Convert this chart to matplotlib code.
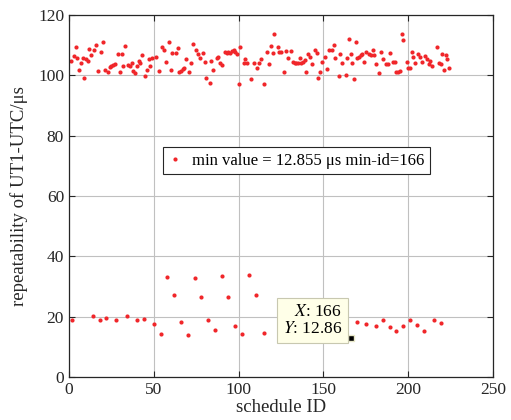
import matplotlib
matplotlib.use("Agg")
import matplotlib.pyplot as plt

plt.rcParams['font.family'] = ['Liberation Serif', 'DejaVu Serif']
plt.rcParams['mathtext.fontset'] = 'stix'

# schedules with large repeatability (upper group)
upperIds = [1, 3, 4, 5, 6, 7, 8, 9, 10, 11, 12, 13, 15, 16, 17, 19, 20, 21, 23, 24,
            25, 26, 27, 29, 30, 31, 32, 33, 35, 36, 37, 38, 39, 40, 41, 42, 43, 45, 46, 47,
            48, 49, 51, 53, 55, 56, 57, 59, 60, 61, 63, 64, 65, 66, 67, 68, 69, 71, 72, 73,
            75, 76, 77, 79, 80, 81, 83, 84, 85, 87, 88, 89, 90, 92, 93, 94, 95, 96, 97, 98,
            99, 100, 101, 103, 104, 105, 107, 109, 111, 112, 113, 115, 117, 118, 119, 120, 121, 123, 124, 125,
            127, 128, 129, 131, 132, 133, 134, 135, 136, 137, 138, 139, 140, 141, 142, 143, 145, 146, 147, 148,
            149, 151, 152, 153, 155, 156, 157, 159, 160, 161, 163, 164, 165, 166, 167, 168, 169, 170, 171, 172,
            173, 174, 175, 177, 178, 179, 180, 181, 183, 184, 185, 187, 188, 189, 191, 192, 193, 194, 195, 196,
            197, 199, 200, 201, 202, 203, 204, 206, 207, 208, 210, 211, 212, 213, 214, 217, 218, 219, 220, 221,
            222, 223, 224]
upperVals = [104.8, 106.6, 109.4, 105.9, 101.9, 104.2, 105.9, 99.3, 105.4, 104.9, 108.7, 106.8, 108.5, 110.0, 101.5, 107.7, 111.1, 101.8, 101.0, 102.8,
             103.3, 103.5, 103.7, 107.1, 101.0, 107.1, 103.3, 109.8, 103.5, 103.1, 104.2, 101.5, 100.9, 103.1, 104.8, 104.2, 106.8, 99.9, 101.7, 105.3,
             103.3, 105.8, 106.2, 101.5, 109.4, 108.6, 104.3, 111.0, 101.8, 107.3, 107.3, 109.0, 101.3, 101.5, 102.0, 102.4, 105.4, 101.3, 104.2, 110.5,
             108.4, 107.1, 105.9, 107.3, 104.4, 99.1, 97.4, 104.8, 101.9, 105.7, 106.2, 104.2, 103.5, 107.9, 107.3, 107.9, 107.3, 108.2, 108.4, 107.7,
             107.1, 97.3, 109.5, 104.2, 105.3, 104.2, 98.7, 104.2, 102.6, 104.2, 105.3, 97.3, 107.9, 103.7, 109.9, 107.5, 113.7, 109.3, 107.7, 107.9,
             101.3, 108.2, 105.7, 108.2, 104.4, 104.0, 104.2, 104.0, 105.7, 104.2, 104.6, 105.1, 101.3, 107.1, 106.2, 103.7, 108.4, 107.5, 99.3, 101.1,
             104.6, 106.2, 102.2, 108.4, 108.6, 110.2, 105.9, 99.8, 107.1, 104.0, 100.0, 105.9, 112.1, 107.1, 104.2, 98.9, 111.0, 105.7, 106.2, 106.8,
             107.1, 104.4, 107.9, 107.1, 106.8, 108.6, 106.8, 103.7, 100.7, 107.9, 105.5, 103.7, 103.7, 107.3, 104.6, 104.6, 101.3, 101.3, 101.5, 113.7,
             111.9, 104.6, 102.6, 102.6, 107.9, 106.2, 104.2, 107.1, 106.2, 104.4, 106.4, 105.5, 103.7, 104.8, 103.1, 109.3, 104.2, 103.7, 107.1, 101.8,
             106.8, 105.5, 102.6]

# schedules with small repeatability (lower group)
lowerIds = [2, 14, 18, 22, 28, 34, 40, 44, 50, 54, 58, 62, 66, 70, 74, 78, 82, 86, 90, 94,
            98, 102, 106, 110, 115, 166, 170, 175, 181, 185, 189, 193, 197, 201, 205, 209, 215, 219]
lowerVals = [18.9, 20.3, 19.1, 19.7, 19.1, 20.2, 18.9, 19.4, 17.6, 14.4, 33.1, 27.1, 18.3, 13.9, 33.0, 26.6, 18.8, 15.5, 33.5, 26.5,
             16.9, 14.3, 33.9, 27.2, 14.5, 12.855, 18.2, 17.7, 17.0, 18.8, 16.7, 15.2, 16.8, 18.8, 17.4, 15.4, 18.9, 17.9]

minId = 166
minVal = 12.855

xTicks = [0, 50, 100, 150, 200, 250]
yTicks = [0, 20, 40, 60, 80, 100, 120]

ids = upperIds + lowerIds
vals = upperVals + lowerVals

fig = plt.figure(figsize=(5.11, 4.2), dpi=100)
ax = fig.add_axes([0.135, 0.102, 0.83, 0.862])

ax.plot(ids, vals, linestyle='none', marker='o', markersize=3.0, color='#f0262a',
        markeredgewidth=0, label='min value = 12.855 μs min-id=166')

ax.set_xlim(0, 250)
ax.set_ylim(0, 120)
ax.set_xticks(xTicks)
ax.set_yticks(yTicks)
ax.grid(True, color='#c0c0c0', linewidth=0.8)
ax.set_axisbelow(True)
ax.tick_params(direction='in', top=True, right=True, labelsize=12.5, colors='#262626', length=4)
for s in ax.spines.values():
    s.set_color('#262626')
    s.set_linewidth(0.9)

ax.set_xlabel('schedule ID', fontsize=13.5, labelpad=1, color='#262626')
ax.set_ylabel('repeatability of UT1-UTC/μs', fontsize=13.5, labelpad=7, color='#262626')

leg = ax.legend(loc='center', bbox_to_anchor=(0.536, 0.598), fontsize=12, fancybox=False,
                framealpha=1, edgecolor='#262626', handlelength=0.8, handletextpad=0.6,
                borderpad=0.35, markerscale=1.0)
leg.get_frame().set_linewidth(0.8)

# data tip at the minimum
ax.plot([minId], [minVal], linestyle='none', marker='s', markersize=4.5,
        markerfacecolor='black', markeredgecolor='#e8e8c8', markeredgewidth=1, zorder=5)
ax.annotate('$X$: %d\n$Y$: %.2f' % (minId, minVal), xy=(minId, minVal),
            xytext=(-6, 1), textcoords='offset points', ha='right', va='bottom',
            fontsize=12.5, linespacing=1.05,
            bbox=dict(boxstyle='square,pad=0.35', facecolor='#ffffe8', edgecolor='#c8c8b0', linewidth=0.8),
            zorder=6)

fig.savefig('out.png', dpi=100)
